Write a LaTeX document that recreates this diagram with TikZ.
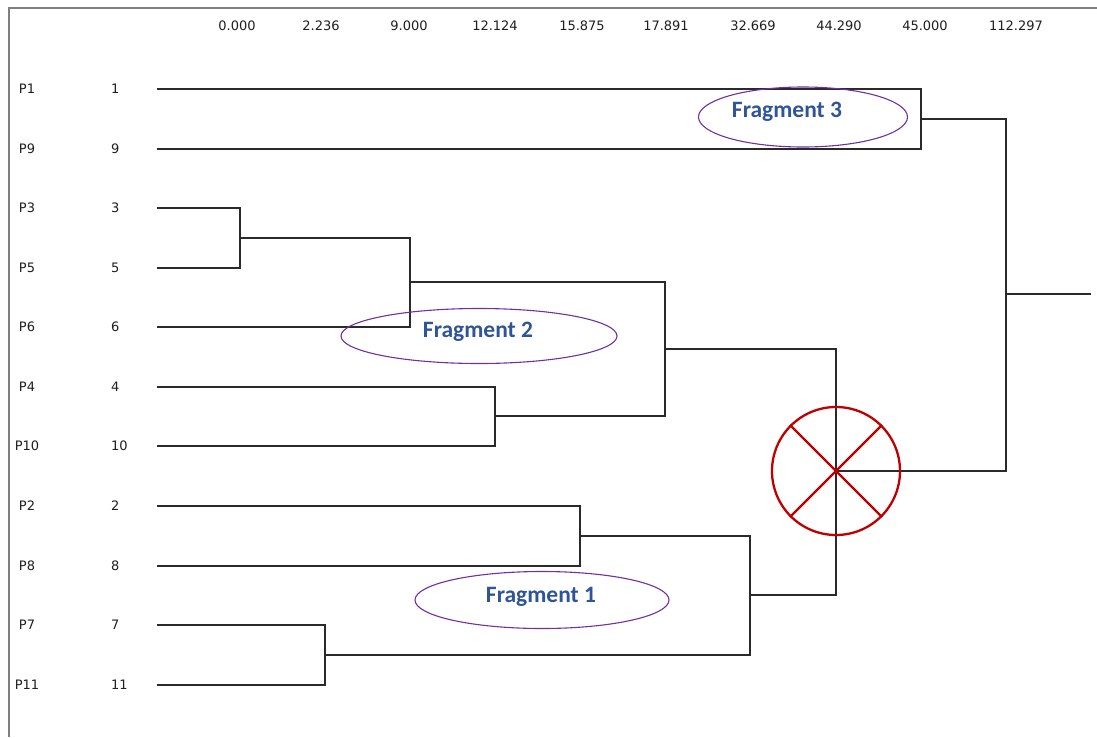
\documentclass[tikz,border=0pt]{standalone}
\usepackage{fontspec}
\setmainfont{DejaVu Sans}
\newfontfamily\fragfont{Carlito}
\usetikzlibrary{shapes.geometric}

\definecolor{treeline}{HTML}{2A2A2A}
\definecolor{framegray}{HTML}{7F7F7F}
\definecolor{markred}{HTML}{C00000}
\definecolor{fragpurple}{HTML}{7030A0}
\definecolor{fragblue}{HTML}{2F5597}

\begin{document}
\begin{tikzpicture}[x=1pt, y=-1pt,
  tree/.style={draw=treeline, line width=1.6pt},
  frameline/.style={draw=framegray, line width=1.6pt},
  smalltext/.style={font=\fontsize{13}{15}\selectfont, inner sep=0pt, text=black!88},
  fragring/.style={ellipse, draw=fragpurple, line width=1.1pt, inner sep=0pt},
  fragtext/.style={font=\fragfont\bfseries\fontsize{23.5}{26}\selectfont, text=fragblue, inner sep=0pt},
  markcircle/.style={circle, draw=markred, line width=2.3pt, inner sep=0pt, minimum size=128pt},
  markcross/.style={draw=markred, line width=2.3pt}]

\useasboundingbox (0,0) rectangle (1097,737);
\fill[white] (0,0) rectangle (1097,737);

% window frame
\coordinate (ftr) at (1097,8);
\coordinate (ftl) at (9,8);
\coordinate (fbl) at (9,737);
\draw[frameline] (ftr) -- (ftl) -- (fbl);

% distance scale
\foreach \v/\x [count=\i] in {0.000/237, 2.236/321, 9.000/409, 12.124/495, 15.875/582,
    17.891/666, 32.669/753, 44.290/839, 45.000/925, 112.297/1016}
  \node[smalltext] (scale\i) at (\x,26) {\v};

% leaves: object name, index, start of branch
\foreach \n/\y in {1/89, 9/149, 3/208, 5/268, 6/327, 4/387, 10/446, 2/506, 8/566, 7/625, 11/685} {
  \coordinate (l\n) at (157, \y);
  \node[smalltext] (p\n) at (27, \y) {P\n};
  \node[smalltext, anchor=west] (n\n) at (111, \y) {\n};
}

% merge points
\coordinate (j19)  at (921,  119);
\coordinate (j35)  at (240,  238);
\coordinate (j356) at (410,  282);
\coordinate (j410) at (495,  416);
\coordinate (jA)   at (665,  349);
\coordinate (j28)  at (580,  536);
\coordinate (j711) at (325,  655);
\coordinate (jB)   at (750,  595);
\coordinate (jC)   at (836,  471);
\coordinate (root) at (1006, 294);
\coordinate (stub) at (1091, 294);

% dendrogram branches
\draw[tree] (l1) -| (j19) |- (l9);
\draw[tree] (l3) -| (j35) |- (l5);
\draw[tree] (j35) -| (j356) |- (l6);
\draw[tree] (l4) -| (j410) |- (l10);
\draw[tree] (j356) -| (jA) |- (j410);
\draw[tree] (l2) -| (j28) |- (l8);
\draw[tree] (l7) -| (j711) |- (l11);
\draw[tree] (j28) -| (jB) |- (j711);
\draw[tree] (jA) -| (jC) |- (jB);
\draw[tree] (j19) -| (root) |- (jC);
\draw[tree] (root) -- (stub);

% cut mark on the merge of fragments 1 and 2
\node[markcircle] (mark) at (jC) {};
\draw[markcross] (mark.north west) -- (mark.south east);
\draw[markcross] (mark.north east) -- (mark.south west);

% fragment annotations
\node[fragring, minimum width=209pt, minimum height=60pt] (ring3) at (803,117) {};
\node[fragtext] (frag3) at (787,112) {Fragment 3};
\node[fragring, minimum width=276pt, minimum height=55pt] (ring2) at (479,336) {};
\node[fragtext] (frag2) at (478,332) {Fragment 2};
\node[fragring, minimum width=254pt, minimum height=57pt] (ring1) at (542,600) {};
\node[fragtext] (frag1) at (541,597) {Fragment 1};

\end{tikzpicture}
\end{document}
